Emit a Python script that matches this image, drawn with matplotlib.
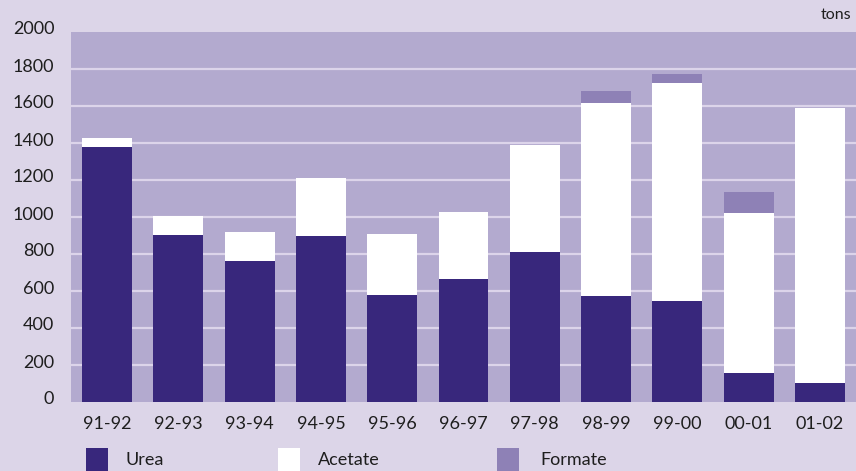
import matplotlib
matplotlib.use("Agg")
import matplotlib.pyplot as plt
import matplotlib.transforms as mtrans
from matplotlib.patches import Rectangle
import numpy as np

seasons = ["91-92", "92-93", "93-94", "94-95", "95-96", "96-97",
           "97-98", "98-99", "99-00", "00-01", "01-02"]
urea = [1380, 905, 760, 900, 578, 665, 810, 572, 545, 157, 103]
acetate = [45, 100, 160, 310, 330, 362, 580, 1044, 1180, 865, 1486]
formate = [0, 0, 0, 0, 0, 0, 0, 65, 50, 113, 0]
y_ticks = [0, 200, 400, 600, 800, 1000, 1200, 1400, 1600, 1800, 2000]
legend_labels = ["Urea", "Acetate", "Formate"]

BG = "#dcd5e8"
PLOT_BG = "#b3aacf"
GRID = "#dcd4ea"
C_UREA = "#38277c"
C_ACET = "#ffffff"
C_FORM = "#8e81b6"
TXT = "#1e1e1e"

plt.rcParams["font.family"] = ["Lato", "DejaVu Sans"]

fig = plt.figure(figsize=(8.56, 4.71), dpi=100, facecolor=BG)
W, H = 856, 471
ax = fig.add_axes([71 / W, (H - 402) / H, (W - 71) / W, (402 - 32) / H])
ax.set_facecolor(PLOT_BG)

x = np.arange(len(seasons))
urea_a = np.array(urea)
acet_a = np.array(acetate)
form_a = np.array(formate)
bw = 0.70
ax.bar(x, urea_a, width=bw, color=C_UREA, zorder=3, linewidth=0)
ax.bar(x, acet_a, width=bw, bottom=urea_a, color=C_ACET, zorder=3, linewidth=0)
ax.bar(x, form_a, width=bw, bottom=urea_a + acet_a, color=C_FORM, zorder=3, linewidth=0)

ax.set_xlim(-0.505, len(seasons) - 0.495)
ax.set_ylim(0, 2000)
ax.set_yticks(y_ticks)
ax.set_yticklabels([str(v) for v in y_ticks], fontsize=13, color=TXT)
ax.set_xticks(x)
ax.set_xticklabels(seasons, fontsize=13, color=TXT)
ax.tick_params(axis="both", length=0)
ax.tick_params(axis="y", pad=12)
ax.tick_params(axis="x", pad=10)
# lift y labels slightly above their gridlines
offset = mtrans.ScaledTranslation(0, 4 / 100, fig.dpi_scale_trans)
for lbl in ax.get_yticklabels():
    lbl.set_transform(lbl.get_transform() + offset)

for v in y_ticks[1:-1]:
    ax.axhline(v, color=GRID, linewidth=1.6, zorder=1)
for s in ax.spines.values():
    s.set_visible(False)

fig.text(851 / W, 1 - 15 / H, "tons", ha="right", va="center",
         fontsize=11.5, color=TXT)

# legend swatches and labels
legend_colors = [C_UREA, C_ACET, C_FORM]
swatch_x = [86, 278, 497]
text_x = [126, 318, 540]
for lab, col, sx, tx in zip(legend_labels, legend_colors, swatch_x, text_x):
    fig.patches.append(Rectangle((sx / W, 0), 22 / W, 23 / H,
                                 transform=fig.transFigure, facecolor=col,
                                 edgecolor="none"))
    fig.text(tx / W, 1 - 460 / H, lab, ha="left", va="center",
             fontsize=13, color=TXT)

fig.savefig("out.png", dpi=100, facecolor=BG)
